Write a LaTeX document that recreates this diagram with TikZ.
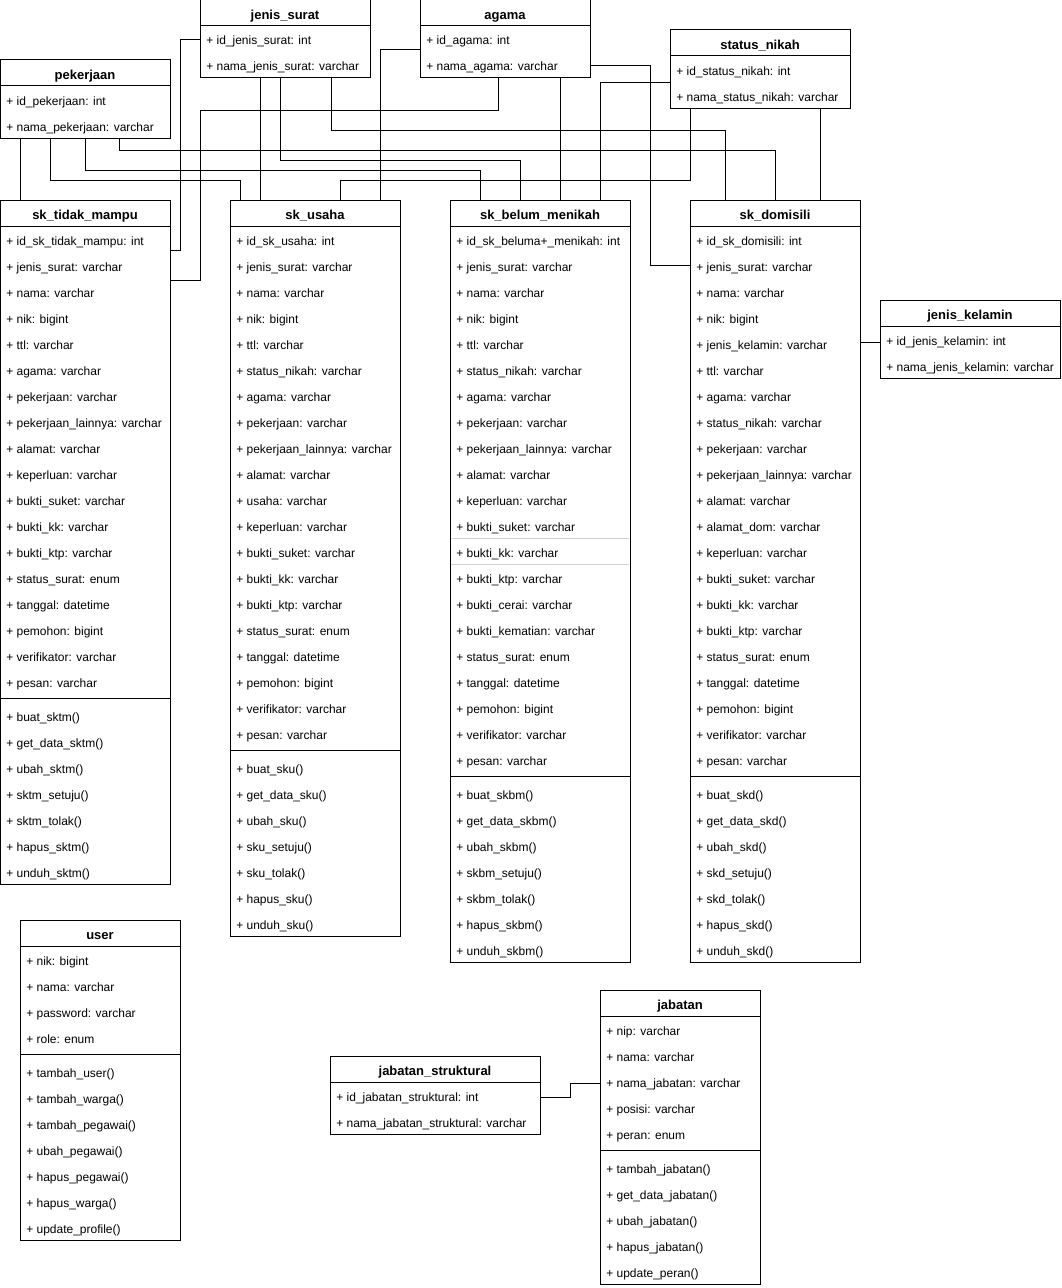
\documentclass[tikz,border=0pt]{standalone}
\usepackage{fontspec}
\setmainfont{Liberation Sans}
\usetikzlibrary{calc}

\tikzset{
  classline/.style={draw=black, line width=0.75pt},
  classbox/.style={draw=black, line width=0.75pt, inner sep=0pt, outer sep=0pt, anchor=north west},
  classtitle/.style={anchor=center, inner sep=0pt, text height=7pt, text depth=1.5pt, yshift=-2.25pt,
    font=\fontsize{9.75}{11}\selectfont\bfseries},
  classrow/.style={anchor=west, inner sep=0pt, text height=7pt, text depth=1pt, yshift=-1.5pt,
    font=\fontsize{9}{10}\selectfont},
  rowrule/.style={draw=black!18, line width=0.75pt},
  link/.style={draw=black, line width=0.75pt},
}

% title bar of a class: name, left x, top y, width, title
\newcommand{\classhead}[5]{%
  \node[classtitle] (#1-title) at (#2+#4/2, #3+13) {#5};
  \draw[classline] (#2, #3+26) -- (#2+#4, #3+26);
}
% attribute rows: name, left x, top y, list
\newcommand{\classattrs}[4]{%
  \gdef\ucna{0}%
  \foreach \ucrow [count=\ucidx] in {#4} {%
    \node[classrow] (#1-a\ucidx) at (#2+6, #3+13+26*\ucidx) {+ \ucrow};
    \xdef\ucna{\ucidx}}%
}
% table with attributes only
\newcommand{\umltable}[6]{%
  \classhead{#1}{#2}{#3}{#4}{#5}
  \classattrs{#1}{#2}{#3}{#6}
  \pgfmathsetmacro\uch{26+26*\ucna}
  \node[classbox, minimum width=#4*0.75pt, minimum height=\uch*0.75pt] (#1) at (#2,#3) {};
}
% class with attributes and operations
\newcommand{\umlclass}[7]{%
  \classhead{#1}{#2}{#3}{#4}{#5}
  \classattrs{#1}{#2}{#3}{#6}
  \pgfmathsetmacro\ucsep{#3+30+26*\ucna}
  \draw[classline] (#2,\ucsep) -- (#2+#4,\ucsep);
  \gdef\ucnm{0}%
  \foreach \ucrow [count=\ucidx] in {#7} {%
    \node[classrow] (#1-m\ucidx) at (#2+6, #3+21+26*\ucna+26*\ucidx) {+ \ucrow};
    \xdef\ucnm{\ucidx}}%
  \pgfmathsetmacro\uch{34+26*\ucna+26*\ucnm}
  \node[classbox, minimum width=#4*0.75pt, minimum height=\uch*0.75pt] (#1) at (#2,#3) {};
}

\begin{document}
\catcode`\_=12
\begin{tikzpicture}[x=0.75pt, y=-0.75pt]
\fill[white] (0,0) rectangle (1061,1288);
\useasboundingbox (0,0) rectangle (1061,1288);

% lookup tables
\umltable{jenissurat}{200}{0}{170}{jenis_surat}{id_jenis_surat: int,nama_jenis_surat: varchar}
\umltable{agama}{420}{0}{170}{agama}{id_agama: int,nama_agama: varchar}
\umltable{statusnikah}{670}{30}{180}{status_nikah}{id_status_nikah: int,nama_status_nikah: varchar}
\umltable{pekerjaan}{0}{60}{170}{pekerjaan}{id_pekerjaan: int,nama_pekerjaan: varchar}
\umltable{jeniskelamin}{880}{300}{180}{jenis_kelamin}{id_jenis_kelamin: int,nama_jenis_kelamin: varchar}
\umltable{jstruk}{330}{1056}{210}{jabatan_struktural}{id_jabatan_struktural: int,nama_jabatan_struktural: varchar}

% letter classes
\umlclass{sktm}{0}{200}{170}{sk_tidak_mampu}
  {id_sk_tidak_mampu: int,jenis_surat: varchar,nama: varchar,nik: bigint,ttl: varchar,agama: varchar,pekerjaan: varchar,pekerjaan_lainnya: varchar,alamat: varchar,keperluan: varchar,bukti_suket: varchar,bukti_kk: varchar,bukti_ktp: varchar,status_surat: enum,tanggal: datetime,pemohon: bigint,verifikator: varchar,pesan: varchar}
  {buat_sktm(),get_data_sktm(),ubah_sktm(),sktm_setuju(),sktm_tolak(),hapus_sktm(),unduh_sktm()}

\umlclass{sku}{230}{200}{170}{sk_usaha}
  {id_sk_usaha: int,jenis_surat: varchar,nama: varchar,nik: bigint,ttl: varchar,status_nikah: varchar,agama: varchar,pekerjaan: varchar,pekerjaan_lainnya: varchar,alamat: varchar,usaha: varchar,keperluan: varchar,bukti_suket: varchar,bukti_kk: varchar,bukti_ktp: varchar,status_surat: enum,tanggal: datetime,pemohon: bigint,verifikator: varchar,pesan: varchar}
  {buat_sku(),get_data_sku(),ubah_sku(),sku_setuju(),sku_tolak(),hapus_sku(),unduh_sku()}

\umlclass{skbm}{450}{200}{180}{sk_belum_menikah}
  {id_sk_beluma+_menikah: int,jenis_surat: varchar,nama: varchar,nik: bigint,ttl: varchar,status_nikah: varchar,agama: varchar,pekerjaan: varchar,pekerjaan_lainnya: varchar,alamat: varchar,keperluan: varchar,bukti_suket: varchar,bukti_kk: varchar,bukti_ktp: varchar,bukti_cerai: varchar,bukti_kematian: varchar,status_surat: enum,tanggal: datetime,pemohon: bigint,verifikator: varchar,pesan: varchar}
  {buat_skbm(),get_data_skbm(),ubah_skbm(),skbm_setuju(),skbm_tolak(),hapus_skbm(),unduh_skbm()}
\draw[rowrule] ([xshift=0.5pt]skbm.west |- 0,538) -- ([xshift=-0.5pt]skbm.east |- 0,538);
\draw[rowrule] ([xshift=0.5pt]skbm.west |- 0,564) -- ([xshift=-0.5pt]skbm.east |- 0,564);

\umlclass{skd}{690}{200}{170}{sk_domisili}
  {id_sk_domisili: int,jenis_surat: varchar,nama: varchar,nik: bigint,jenis_kelamin: varchar,ttl: varchar,agama: varchar,status_nikah: varchar,pekerjaan: varchar,pekerjaan_lainnya: varchar,alamat: varchar,alamat_dom: varchar,keperluan: varchar,bukti_suket: varchar,bukti_kk: varchar,bukti_ktp: varchar,status_surat: enum,tanggal: datetime,pemohon: bigint,verifikator: varchar,pesan: varchar}
  {buat_skd(),get_data_skd(),ubah_skd(),skd_setuju(),skd_tolak(),hapus_skd(),unduh_skd()}

\umlclass{user}{20}{920}{160}{user}
  {nik: bigint,nama: varchar,password: varchar,role: enum}
  {tambah_user(),tambah_warga(),tambah_pegawai(),ubah_pegawai(),hapus_pegawai(),hapus_warga(),update_profile()}

\umlclass{jabatan}{600}{990}{160}{jabatan}
  {nip: varchar,nama: varchar,nama_jabatan: varchar,posisi: varchar,peran: enum}
  {tambah_jabatan(),get_data_jabatan(),ubah_jabatan(),hapus_jabatan(),update_peran()}

% relations
\draw[link] (jenissurat.west |- 0,40) -| (180,250) -- (sktm.east |- 0,250);
\draw[link] (agama.south -| 498,0) |- (200,110) |- (sktm.east |- 0,280);
\draw[link] (pekerjaan.south -| 20,0) -- (sktm.north -| 20,0);
\draw[link] (pekerjaan.south -| 50,0) |- (240,180) -- (sku.north -| 240,0);
\draw[link] (pekerjaan.south -| 85,0) |- (480,170) -- (skbm.north -| 480,0);
\draw[link] (pekerjaan.south -| 119,0) |- (775,150) -- (skd.north -| 775,0);
\draw[link] (jenissurat.south -| 260,0) -- (sku.north -| 260,0);
\draw[link] (jenissurat.south -| 280,0) |- (520,160) -- (skbm.north -| 520,0);
\draw[link] (jenissurat.south -| 331,0) |- (725,130) -- (skd.north -| 725,0);
\draw[link] (agama.west |- 0,50) -| (sku.north -| 380,0);
\draw[link] (agama.south -| 560,0) -- (skbm.north -| 560,0);
\draw[link] (agama.east |- 0,66) -| (650,265) -- (skd.west |- 0,265);
\draw[link] (statusnikah.west |- 0,83) -| (skbm.north -| 600,0);
\draw[link] (statusnikah.south -| 690,0) |- (340,180) -- (sku.north -| 340,0);
\draw[link] (statusnikah.south -| 820,0) -- (skd.north -| 820,0);
\draw[link] (skd.east |- 0,342) -- (jeniskelamin.west |- 0,342);
\draw[link] (jstruk.east |- jstruk-a1) -- ++(30,0) |- (jabatan.west |- jabatan-a3);
\end{tikzpicture}
\end{document}
